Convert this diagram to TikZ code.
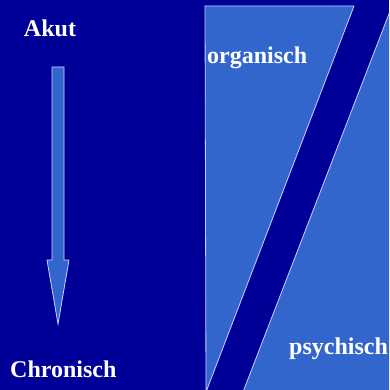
\documentclass[tikz,border=0pt]{standalone}
\usepackage{fontspec}
\setmainfont{Liberation Serif}
\definecolor{bgblue}{HTML}{000099}
\definecolor{panel}{HTML}{3366CC}
\definecolor{rim}{HTML}{C8D0FF}
\begin{document}
\begin{tikzpicture}[x=1pt,y=-1pt,
  wedge/.style={fill=panel,draw=rim,line width=0.8pt,line join=miter},
  caption/.style={text=white,font=\fontsize{24}{24}\selectfont\bfseries,inner sep=0pt}]
  % background
  \fill[bgblue] (0,0) rectangle (389,390);
  \useasboundingbox (0,0) rectangle (389,390);
  \begin{scope}
    \clip (0,0) rectangle (389,390);
    % organic wedge
    \draw[wedge] (205,6) -- (354,6) -- (206,392) -- cycle;
    % psychic wedge
    \draw[wedge] (392,6) -- (243,392) -- (392,392) -- cycle;
  \end{scope}
  % time arrow from acute to chronic
  \draw[wedge] (52,67) -- (64,67) -- (64,260) -- (69,260) -- (58,324)
    -- (47,260) -- (52,260) -- cycle;
  \node[caption,anchor=base] (akut) at (50,37) {Akut};
  \node[caption,anchor=base west] (org) at (207,64) {organisch};
  \node[caption,anchor=base west] (psy) at (289,354) {psychisch};
  \node[caption,anchor=base west] (chr) at (10,377) {Chronisch};
\end{tikzpicture}
\end{document}
